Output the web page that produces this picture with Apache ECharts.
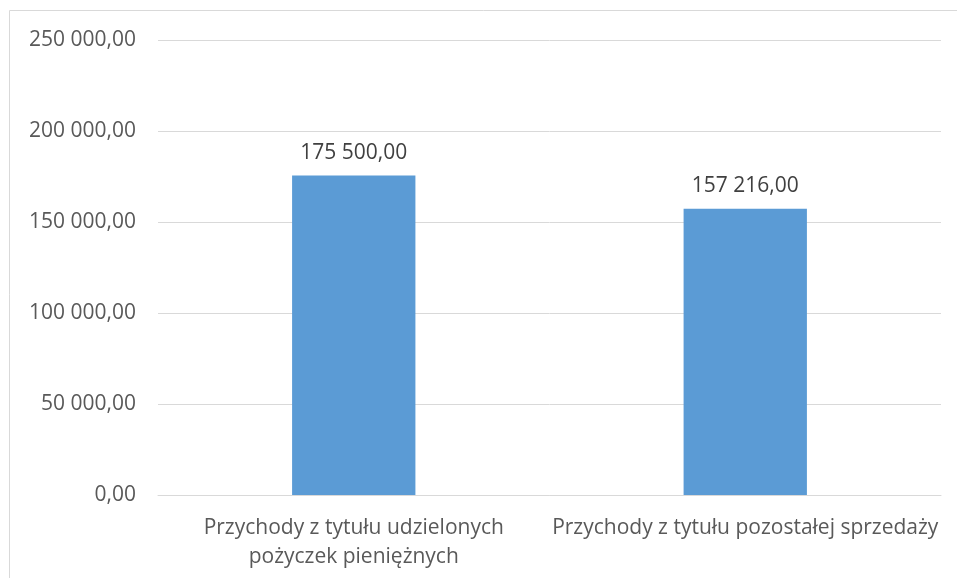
<!DOCTYPE html>
<html><head><meta charset="utf-8">
<script src="https://cdn.jsdelivr.net/npm/echarts@6/dist/echarts.min.js"></script>
<style>html,body{margin:0;padding:0;background:#fff}#c{width:957px;height:578px}</style>
</head><body><div id="c"></div>
<script>
const categories = ['Przychody z tytułu udzielonych\npożyczek pieniężnych', 'Przychody z tytułu pozostałej sprzedaży'];
const values = [175500, 157216];
const yTicks = [0, 50000, 100000, 150000, 200000, 250000];

function fmt(v) {
  const s = Math.round(v).toString().replace(/\B(?=(\d{3})+(?!\d))/g, ' ');
  return s + ',00';
}
const FONT = 'Open Sans';
const chart = echarts.init(document.getElementById('c'), null, {renderer: 'canvas'});
chart.setOption({
  animation: false,
  graphic: [{type: 'rect', shape: {x: 9.5, y: 10.5, width: 1000, height: 1000}, style: {fill: 'none', stroke: '#d9d9d9', lineWidth: 1}}],
  grid: {left: 158, right: 16, top: 40, bottom: 83},
  xAxis: {
    type: 'category', data: categories,
    axisLine: {lineStyle: {color: '#d9d9d9', width: 1}},
    axisTick: {show: false},
    axisLabel: {color: '#595959', fontFamily: FONT, fontSize: 21, lineHeight: 29, margin: 19, interval: 0}
  },
  yAxis: {
    type: 'value', min: yTicks[0], max: yTicks[yTicks.length - 1], interval: yTicks[1] - yTicks[0],
    axisLine: {show: false}, axisTick: {show: false},
    splitLine: {lineStyle: {color: '#d9d9d9', width: 1}},
    axisLabel: {color: '#595959', fontFamily: FONT, fontSize: 21, margin: 22, formatter: fmt}
  },
  series: [{
    type: 'bar', data: values, barWidth: '31.5%',
    itemStyle: {color: '#5B9BD5'},
    label: {show: true, position: 'top', distance: 12, color: '#404040', fontFamily: FONT, fontSize: 21, formatter: p => fmt(p.value)}
  }]
});
</script></body></html>
